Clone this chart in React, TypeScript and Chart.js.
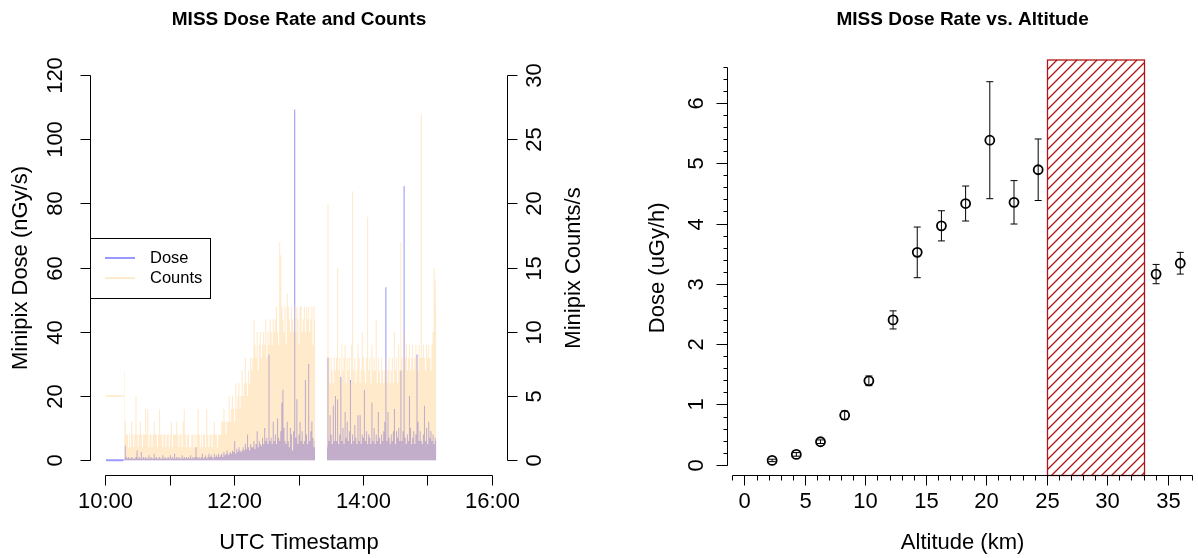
import React, { useEffect, useRef } from "react";
import { Chart, registerables } from "chart.js";

Chart.register(...registerables);

const FONT = '"Liberation Sans", Arial, Helvetica, sans-serif';

// ---------------- Left panel: MISS Dose Rate and Counts ----------------
const TIME_LIMITS = ["10:00", "16:00"];
const TIME_TICKS = ["10:00", "11:00", "12:00", "13:00", "14:00", "15:00", "16:00"];
const TIME_TICK_LABELS = ["10:00", "", "12:00", "", "14:00", "", "16:00"];
const DOSE_LIMITS = [0, 120];
const DOSE_TICKS = [0, 20, 40, 60, 80, 100, 120];
const COUNT_LIMITS = [0, 30];
const COUNT_TICKS = [0, 5, 10, 15, 20, 25, 30];

// idle period before the first run
const IDLE_TIMES = ["10:00:00", "10:16:30"];
const IDLE_DOSE = [0, 0];
const IDLE_COUNTS = [5, 5];

// first run, one sample per minute starting at RUN1_START
const RUN1_START = "10:17";
const RUN1_DOSE = [
  0.5, 4.5, 1, 0.5, 1, 0.5, 0.5, 1, 0.5, 0.5,
  0.5, 1, 3, 0.5, 1, 0.5, 2.5, 0.5, 1, 0.5,
  1, 0.5, 0.5, 1.5, 0.5, 1, 0.5, 0.5, 2, 0.5,
  1, 0.5, 0.5, 1, 0.5, 0.5, 1.5, 0.5, 1, 0.5,
  0.5, 1, 0.5, 1.5, 0.5, 1, 0.5, 2, 0.5, 1,
  0.5, 1, 0.5, 0.5, 1.5, 0.5, 1, 0.5, 1, 0.5,
  1, 0.5, 1.5, 0.5, 1, 0.5, 1, 4, 1, 0.5,
  1, 0.5, 1, 2, 0.5, 1, 1.5, 0.5, 1, 2,
  1, 1.5, 1, 0.5, 2, 1, 1.5, 1, 2, 1,
  1.5, 2, 1, 2.5, 1.5, 2, 3, 1.5, 2, 2.5,
  2, 3, 2.5, 6, 2, 3.5, 2.5, 4, 3, 2.5,
  3, 4, 3, 5, 3.5, 8, 4, 3, 5, 4,
  4, 6, 3.5, 5, 9, 4, 6, 5, 4.5, 7,
  5, 10, 6, 7, 5, 33, 6, 7, 5, 12,
  6, 8, 5, 13, 7, 6, 9, 18, 22, 10,
  6, 5, 12, 6, 4, 10, 8, 3, 9, 109.5,
  7, 19, 5, 8, 12, 6, 9, 5, 6, 25,
  8, 5, 30, 6, 9, 12, 7, 4, 6,
];
const RUN1_COUNTS = [
  7, 3, 2, 2, 1, 2, 1, 3, 2, 1,
  2, 5, 2, 1, 2, 3, 2, 1, 2, 2,
  4, 2, 4, 1, 2, 2, 1, 2, 3, 2,
  2, 1, 2, 4, 2, 2, 1, 2, 2, 1,
  2, 2, 1, 2, 3, 1, 2, 2, 2, 3,
  2, 1, 2, 2, 1, 3, 4, 2, 1, 2,
  2, 1, 1, 2, 2, 1, 2, 1, 2, 4,
  2, 1, 2, 1, 2, 2, 1, 4, 2, 1,
  2, 2, 1, 2, 3, 2, 2, 1, 2, 2,
  2, 3, 3, 4, 3, 2, 3, 3, 5, 3,
  4, 5, 4, 3, 6, 4, 5, 6, 4, 5,
  7, 5, 6, 8, 6, 5, 7, 6, 8, 7,
  8, 11, 9, 8, 10, 7, 9, 10, 8, 9,
  10, 9, 11, 8, 10, 9, 11, 10, 9, 11,
  10, 11, 12, 10, 9, 17, 16, 12, 11, 10,
  12, 9, 13, 12, 11, 10, 12, 11, 10, 12,
  10, 12, 11, 9, 12, 12, 10, 11, 12, 10,
  12, 11, 12, 10, 11, 12, 9, 12, 11,
];

// second run, one sample per minute starting at RUN2_START
const RUN2_START = "13:26";
const RUN2_DOSE = [
  4, 32, 6, 14, 8, 5, 17, 6, 20, 6,
  19, 5, 8, 26, 6, 10, 5, 15, 7, 12,
  6, 9, 25, 5, 8, 6, 11, 7, 5, 14,
  6, 14, 5, 8, 7, 22, 6, 9, 5, 8,
  7, 5, 18, 6, 10, 5, 8, 6, 15, 7,
  5, 8, 6, 9, 12, 54, 6, 15, 7, 5,
  8, 6, 9, 16, 5, 9, 7, 10, 6, 28,
  6, 9, 85.6, 7, 5, 8, 6, 20, 10, 5,
  7, 9, 5, 8, 33, 12, 6, 9, 6, 5,
  8, 17, 6, 10, 5, 12, 7, 9, 6, 8,
  5, 7, 6,
];
const RUN2_COUNTS = [
  7, 20, 8, 6, 8, 7, 6, 8, 7, 8,
  15, 7, 8, 6, 9, 7, 8, 9, 6, 8,
  7, 8, 6, 9, 21, 7, 8, 6, 7, 9,
  8, 6, 7, 10, 8, 7, 6, 8, 19, 7,
  8, 6, 9, 7, 8, 7, 11, 6, 8, 7,
  6, 8, 7, 6, 7, 8, 6, 7, 8, 6,
  7, 8, 6, 10, 7, 8, 6, 9, 7, 17,
  8, 7, 10, 8, 9, 7, 8, 9, 7, 8,
  9, 7, 8, 9, 8, 7, 9, 8, 27, 8,
  9, 8, 7, 9, 8, 9, 8, 7, 9, 10,
  15, 14, 12,
];

const DOSE_COLOR = "rgba(0,0,255,0.4)";
const COUNTS_COLOR = "rgba(255,202,125,0.4)";

// ---------------- Right panel: MISS Dose Rate vs. Altitude ----------------
const ALTITUDE_KM = [2.25, 4.25, 6.25, 8.25, 10.25, 12.25, 14.25, 16.25, 18.25, 20.25, 22.25, 24.25, 34, 36];
const DOSE_UGY_H = [0.08, 0.18, 0.39, 0.83, 1.4, 2.41, 3.53, 3.97, 4.34, 5.39, 4.36, 4.9, 3.17, 3.35];
const DOSE_ERR = [0.02, 0.03, 0.03, 0.07, 0.08, 0.15, 0.42, 0.25, 0.29, 0.97, 0.36, 0.51, 0.16, 0.18];
const HATCH_RANGE_KM = [25, 33];
const HATCH_COLOR = "#B01414";
const ALT_LIMITS = [0, 36];
const ALT_TICKS = [0, 5, 10, 15, 20, 25, 30, 35];
const ALT_MINOR_RANGE = [-1, 37];
const RATE_LIMITS = [-0.17, 6.72];
const RATE_TICKS = [0, 1, 2, 3, 4, 5, 6];
const RATE_MINOR_RANGE = [0, 6.6];

// ---------------- helpers ----------------
const toMin = (s: string) => {
  const p = s.split(":").map(Number);
  return p[0] * 60 + p[1] + (p[2] || 0) / 60;
};
const rPad = (lim: number[]) => {
  const d = (lim[1] - lim[0]) * 0.04;
  return [lim[0] - d, lim[1] + d];
};
const cr = (v: number) => Math.round(v - 0.5) + 0.5;

function seg(ctx: CanvasRenderingContext2D, x1: number, y1: number, x2: number, y2: number) {
  ctx.beginPath();
  ctx.moveTo(x1, y1);
  ctx.lineTo(x2, y2);
  ctx.stroke();
}
function vText(ctx: CanvasRenderingContext2D, text: string, x: number, y: number, font: string) {
  ctx.save();
  ctx.translate(x, y);
  ctx.rotate(-Math.PI / 2);
  ctx.font = font;
  ctx.textAlign = "center";
  ctx.textBaseline = "middle";
  ctx.fillText(text, 0, 0);
  ctx.restore();
}

const series = (start: string, vals: number[]) => {
  const t0 = toMin(start);
  return vals.map((v, i) => ({ x: t0 + i, y: v }));
};

const TICK_FONT = `22px ${FONT}`;
const TITLE_FONT = `bold 19px ${FONT}`;

const leftDecor = {
  id: "leftDecor",
  afterDraw(chart: any) {
    const { ctx, chartArea: a, scales } = chart;
    const xs = scales.x, yd = scales.yd, yc = scales.yc;
    ctx.save();
    ctx.strokeStyle = "#000";
    ctx.fillStyle = "#000";
    ctx.lineWidth = 1;

    // x axis
    const yb = cr(a.bottom);
    const xt = TIME_TICKS.map((t) => cr(xs.getPixelForValue(toMin(t))));
    seg(ctx, xt[0], yb, xt[xt.length - 1], yb);
    xt.forEach((px) => seg(ctx, px, yb, px, yb + 10));
    ctx.font = TICK_FONT;
    ctx.textAlign = "center";
    ctx.textBaseline = "middle";
    TIME_TICK_LABELS.forEach((l, i) => l && ctx.fillText(l, xt[i], a.bottom + 26.5));
    ctx.fillText("UTC Timestamp", (a.left + a.right) / 2, a.bottom + 67.5);

    // left dose axis
    const xl = cr(a.left);
    const yt = DOSE_TICKS.map((v) => cr(yd.getPixelForValue(v)));
    seg(ctx, xl, yt[0], xl, yt[yt.length - 1]);
    yt.forEach((py, i) => {
      seg(ctx, xl, py, xl - 10, py);
      vText(ctx, String(DOSE_TICKS[i]), a.left - 34.5, py, TICK_FONT);
    });
    vText(ctx, "Minipix Dose (nGy/s)", a.left - 69.5, (a.top + a.bottom) / 2, TICK_FONT);

    // right counts axis
    const xr = cr(a.right);
    const ct = COUNT_TICKS.map((v) => cr(yc.getPixelForValue(v)));
    seg(ctx, xr, ct[0], xr, ct[ct.length - 1]);
    ct.forEach((py, i) => {
      seg(ctx, xr, py, xr + 10, py);
      vText(ctx, String(COUNT_TICKS[i]), a.right + 27.5, py, TICK_FONT);
    });
    vText(ctx, "Minipix Counts/s", a.right + 66.5, (a.top + a.bottom) / 2, TICK_FONT);

    // title
    ctx.font = TITLE_FONT;
    ctx.textAlign = "center";
    ctx.textBaseline = "middle";
    ctx.fillText("MISS Dose Rate and Counts", (a.left + a.right) / 2, a.top - 40.5);

    // legend (R style, "left")
    const cy = (a.top + a.bottom) / 2;
    const bx = cr(a.left);
    const by = cr(cy - 30);
    ctx.lineWidth = 1;
    ctx.strokeStyle = "#000";
    ctx.strokeRect(bx, by, 120, 60);
    ctx.lineWidth = 2;
    ctx.strokeStyle = DOSE_COLOR;
    seg(ctx, a.left + 14.5, cy - 10, a.left + 44.5, cy - 10);
    ctx.strokeStyle = COUNTS_COLOR;
    seg(ctx, a.left + 14.5, cy + 10, a.left + 44.5, cy + 10);
    ctx.font = `16.5px ${FONT}`;
    ctx.textAlign = "left";
    ctx.textBaseline = "middle";
    ctx.fillStyle = "#000";
    ctx.fillText("Dose", a.left + 59.5, cy - 10);
    ctx.fillText("Counts", a.left + 59.5, cy + 10);
    ctx.restore();
  },
};

const rightDecor = {
  id: "rightDecor",
  beforeDatasetsDraw(chart: any) {
    const { ctx, chartArea: a, scales } = chart;
    const xs = scales.x;
    const x1 = cr(xs.getPixelForValue(HATCH_RANGE_KM[0]));
    const x2 = cr(xs.getPixelForValue(HATCH_RANGE_KM[1]));
    const top = Math.round(a.top);
    const bot = cr(a.bottom);
    const w = x2 - x1;
    ctx.save();
    ctx.strokeStyle = HATCH_COLOR;
    ctx.lineWidth = 1.15;
    const step = 10;
    // 45 degree "/" lines: x + y is constant along each line
    const drawLine = (c: number) => {
      const xa = Math.max(x1, c - bot);
      const xb = Math.min(x2, c - top);
      if (xb > xa) seg(ctx, xa, c - xa, xb, c - xb);
    };
    for (let c = x2 + bot - 3; c > x1 + top; c -= step) drawLine(c);
    ctx.lineWidth = 1.3;
    ctx.strokeStyle = HATCH_COLOR;
    ctx.strokeRect(x1, top, w, bot - top);
    ctx.restore();
  },
  afterDatasetsDraw(chart: any) {
    const { ctx, scales } = chart;
    const xs = scales.x, ys = scales.y;
    ctx.save();
    ctx.strokeStyle = "#000";
    ctx.lineWidth = 1;
    ALTITUDE_KM.forEach((alt, i) => {
      const x = xs.getPixelForValue(alt);
      const y1 = ys.getPixelForValue(DOSE_UGY_H[i] - DOSE_ERR[i]);
      const y2 = ys.getPixelForValue(DOSE_UGY_H[i] + DOSE_ERR[i]);
      seg(ctx, x, y1, x, y2);
      seg(ctx, x - 3.5, y1, x + 3.5, y1);
      seg(ctx, x - 3.5, y2, x + 3.5, y2);
    });
    ctx.restore();
  },
  afterDraw(chart: any) {
    const { ctx, chartArea: a, scales } = chart;
    const xs = scales.x, ys = scales.y;
    ctx.save();
    ctx.strokeStyle = "#000";
    ctx.fillStyle = "#000";
    ctx.lineWidth = 1;

    // x axis
    const yb = cr(a.bottom);
    seg(ctx, cr(xs.getPixelForValue(ALT_MINOR_RANGE[0])), yb, cr(xs.getPixelForValue(ALT_MINOR_RANGE[1])), yb);
    for (let v = ALT_MINOR_RANGE[0]; v <= ALT_MINOR_RANGE[1]; v += 1) {
      const px = cr(xs.getPixelForValue(v));
      seg(ctx, px, yb, px, yb + 5);
    }
    ctx.font = TICK_FONT;
    ctx.textAlign = "center";
    ctx.textBaseline = "middle";
    ALT_TICKS.forEach((v) => {
      const px = cr(xs.getPixelForValue(v));
      seg(ctx, px, yb, px, yb + 10);
      ctx.fillText(String(v), px, a.bottom + 26.5);
    });
    ctx.fillText("Altitude (km)", (a.left + a.right) / 2, a.bottom + 67.5);

    // y axis
    const xl = cr(a.left);
    seg(ctx, xl, cr(ys.getPixelForValue(RATE_MINOR_RANGE[0])), xl, cr(ys.getPixelForValue(RATE_MINOR_RANGE[1])));
    for (let k = 0; k <= Math.round((RATE_MINOR_RANGE[1] - RATE_MINOR_RANGE[0]) / 0.2); k++) {
      const py = cr(ys.getPixelForValue(RATE_MINOR_RANGE[0] + k * 0.2));
      seg(ctx, xl, py, xl - 4, py);
    }
    RATE_TICKS.forEach((v) => {
      const py = cr(ys.getPixelForValue(v));
      seg(ctx, xl, py, xl - 11, py);
      vText(ctx, String(v), a.left - 31, py, TICK_FONT);
    });
    vText(ctx, "Dose (uGy/h)", a.left - 69.5, (a.top + a.bottom) / 2, TICK_FONT);

    // title
    ctx.font = TITLE_FONT;
    ctx.textAlign = "center";
    ctx.textBaseline = "middle";
    ctx.fillText("MISS Dose Rate vs. Altitude", (a.left + a.right) / 2, a.top - 40);
    ctx.restore();
  },
};

function leftConfig(): any {
  const xl = rPad(TIME_LIMITS.map(toMin));
  const dl = rPad(DOSE_LIMITS);
  const cl = rPad(COUNT_LIMITS);
  const gap = { x: (toMin(RUN1_START) + RUN1_DOSE.length + toMin(RUN2_START)) / 2, y: null };
  const doseData = [...series(RUN1_START, RUN1_DOSE), gap, ...series(RUN2_START, RUN2_DOSE)];
  const countData = [...series(RUN1_START, RUN1_COUNTS), gap, ...series(RUN2_START, RUN2_COUNTS)];
  const idleDose = IDLE_TIMES.map((t, i) => ({ x: toMin(t), y: IDLE_DOSE[i] }));
  const idleCounts = IDLE_TIMES.map((t, i) => ({ x: toMin(t), y: IDLE_COUNTS[i] }));
  const common = { pointRadius: 0, tension: 0, spanGaps: false };
  return {
    type: "line",
    data: {
      datasets: [
        { ...common, label: "Counts", data: countData, yAxisID: "yc", stepped: "middle", fill: "origin", backgroundColor: COUNTS_COLOR, borderColor: "rgba(0,0,0,0)", borderWidth: 0, order: 0 },
        { ...common, label: "Counts idle", data: idleCounts, yAxisID: "yc", fill: false, borderColor: COUNTS_COLOR, borderWidth: 1.6, order: 0 },
        { ...common, label: "Dose", data: doseData, yAxisID: "yd", stepped: "middle", fill: "origin", backgroundColor: DOSE_COLOR, borderColor: "rgba(0,0,0,0)", borderWidth: 0, order: 1 },
        { ...common, label: "Dose idle", data: idleDose, yAxisID: "yd", fill: false, borderColor: DOSE_COLOR, borderWidth: 2, order: 1 },
      ],
    },
    options: {
      animation: false,
      responsive: false,
      devicePixelRatio: 1,
      events: [],
      layout: { padding: { left: 90.5, right: 91.5, top: 60.5, bottom: 82.5 } },
      plugins: { legend: { display: false }, tooltip: { enabled: false }, title: { display: false } },
      scales: {
        x: { type: "linear", min: xl[0], max: xl[1], display: false },
        yd: { type: "linear", position: "left", min: dl[0], max: dl[1], display: false },
        yc: { type: "linear", position: "right", min: cl[0], max: cl[1], display: false },
      },
    },
    plugins: [leftDecor],
  };
}

function rightConfig(): any {
  const xl = rPad(ALT_LIMITS);
  return {
    type: "scatter",
    data: {
      datasets: [
        {
          label: "Dose",
          data: ALTITUDE_KM.map((a, i) => ({ x: a, y: DOSE_UGY_H[i] })),
          pointRadius: 4.5,
          pointBorderWidth: 1.8,
          pointBorderColor: "#000",
          pointBackgroundColor: "rgba(0,0,0,0)",
          showLine: false,
        },
      ],
    },
    options: {
      animation: false,
      responsive: false,
      devicePixelRatio: 1,
      events: [],
      layout: { padding: { left: 128.5, right: 1, top: 60, bottom: 82.5 } },
      plugins: { legend: { display: false }, tooltip: { enabled: false }, title: { display: false } },
      scales: {
        x: { type: "linear", min: xl[0], max: xl[1], display: false },
        y: { type: "linear", min: RATE_LIMITS[0], max: RATE_LIMITS[1], display: false },
      },
    },
    plugins: [rightDecor],
  };
}

export default function App() {
  const leftRef = useRef<HTMLCanvasElement>(null);
  const rightRef = useRef<HTMLCanvasElement>(null);
  useEffect(() => {
    const c1 = new Chart(leftRef.current as HTMLCanvasElement, leftConfig());
    const c2 = new Chart(rightRef.current as HTMLCanvasElement, rightConfig());
    return () => {
      c1.destroy();
      c2.destroy();
    };
  }, []);
  return (
    <div style={{ position: "fixed", left: 0, top: 0, width: 1198, height: 558, overflow: "hidden", background: "#fff" }}>
      <canvas ref={leftRef} width={599} height={558} style={{ position: "absolute", left: 0, top: 0, width: 599, height: 558 }} />
      <canvas ref={rightRef} width={605} height={558} style={{ position: "absolute", left: 599, top: 0, width: 605, height: 558 }} />
    </div>
  );
}
